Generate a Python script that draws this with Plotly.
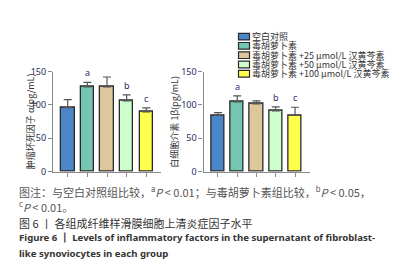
import plotly.graph_objects as go

groups = ["空白对照", "毒胡萝卜素", "毒胡萝卜素 +25 μmol/L 汉黄芩素",
          "毒胡萝卜素 +50 μmol/L 汉黄芩素", "毒胡萝卜素 +100 μmol/L 汉黄芩素"]
colors = ["#4a86c8", "#74c6b2", "#dfc79c", "#ccffcc", "#ffff4d"]
tnf_mean = [96, 127, 127, 106, 89.5]
tnf_err = [12, 7, 15, 9, 6]
tnf_sig = ["", "a", "", "b", "c"]
il1_mean = [84.6, 104.6, 101.5, 91, 84.6]
il1_err = [4, 9, 4.5, 6, 12]
il1_sig = ["", "a", "", "b", "c"]
yticks = [0, 50, 100, 150]

W, H = 420, 271
def px(x): return x / W
def py(y): return 1 - y / H

fig = go.Figure()
xs = list(range(len(groups)))
for mean, err, sig, xa, ya in [(tnf_mean, tnf_err, tnf_sig, "x", "y"),
                                (il1_mean, il1_err, il1_sig, "x2", "y2")]:
    fig.add_trace(go.Bar(
        x=xs, y=mean, width=0.69, xaxis=xa, yaxis=ya,
        marker=dict(color=colors, line=dict(color="#2a2a2a", width=1.3)),
        error_y=dict(type="data", symmetric=False, array=err,
                     arrayminus=[0] * len(err), color="#555555",
                     thickness=1.2, width=4),
        showlegend=False, hoverinfo="skip"))
    for i, (m, e, s) in enumerate(zip(mean, err, sig)):
        if s:
            fig.add_annotation(x=i, y=m + e, xref=xa, yref=ya, text=s,
                               showarrow=False, yanchor="bottom", yshift=1,
                               font=dict(size=9, color="#1f2d6a", family="Noto Sans"))

axis_common = dict(showgrid=False, zeroline=False, showline=True,
                   linecolor="#8a8a8a", linewidth=1.2)
xcommon = dict(axis_common, range=[-0.75, 4.75], tickvals=xs, showticklabels=False,
               ticks="outside", ticklen=4, tickcolor="#8a8a8a", tickwidth=1)
ycommon = dict(axis_common, range=[0, 150], tickvals=yticks, ticks="outside",
               ticklen=4, tickcolor="#8a8a8a", tickwidth=1,
               tickfont=dict(size=9, color="#1f2d5c", family="Noto Sans"))
ydom = [py(164.5), py(59.5)]
fig.update_layout(
    width=W, height=H, margin=dict(l=0, r=0, t=0, b=0),
    paper_bgcolor="white", plot_bgcolor="white", bargap=0,
    xaxis=dict(xcommon, domain=[px(45), px(153)], anchor="y"),
    yaxis=dict(ycommon, domain=ydom, anchor="x"),
    xaxis2=dict(xcommon, domain=[px(195.5), px(301.5)], anchor="y2"),
    yaxis2=dict(ycommon, domain=ydom, anchor="x2"),
)

cjk = "Noto Sans CJK SC"
# y-axis titles
fig.add_annotation(x=px(14), y=py(112), xref="paper", yref="paper",
                   text="肿瘤坏死因子 α(pg/mL)", textangle=-90, showarrow=False,
                   font=dict(size=9, color="#333333", family=cjk))
fig.add_annotation(x=px(167), y=py(112), xref="paper", yref="paper",
                   text="白细胞介素 1β(pg/mL)", textangle=-90, showarrow=False,
                   font=dict(size=9, color="#333333", family=cjk))

# legend
leg_y = [22.7, 32.4, 42.2, 52.0, 61.7]
for name, c, yy in zip(groups, colors, leg_y):
    fig.add_shape(type="rect", xref="paper", yref="paper",
                  x0=px(230.5), x1=px(241.5), y0=py(yy + 3.5), y1=py(yy - 3.5),
                  fillcolor=c, line=dict(color="#2a2a2a", width=1.2))
    fig.add_annotation(x=px(243), y=py(yy), xref="paper", yref="paper",
                       text=name, showarrow=False, xanchor="left", yanchor="middle",
                       borderpad=0,
                       font=dict(size=9, color="#333333", family=cjk))

# captions
caps = [
    (185, "图注：与空白对照组比较，<sup>a</sup><i>P</i> < 0.01；与毒胡萝卜素组比较，<sup>b</sup><i>P</i> < 0.05，", "#555555", cjk, 11),
    (201.5, "<sup>c</sup><i>P</i> < 0.01。", "#555555", cjk, 11),
    (218, "图 6 丨 各组成纤维样滑膜细胞上清炎症因子水平", "#333333", cjk, 11),
    (234, "<b>Figure 6 丨 Levels of inflammatory factors in the supernatant of fibroblast-</b>", "#333333", "Noto Sans", 9.6),
    (250, "<b>like synoviocytes in each group</b>", "#333333", "Noto Sans", 9.6),
]
for yy, t, c, f, s in caps:
    fig.add_annotation(x=px(10), y=py(yy), xref="paper", yref="paper", text=t,
                       showarrow=False, xanchor="left", yanchor="middle",
                       borderpad=0, font=dict(size=s, color=c, family=f))

fig.write_html("out.html")
